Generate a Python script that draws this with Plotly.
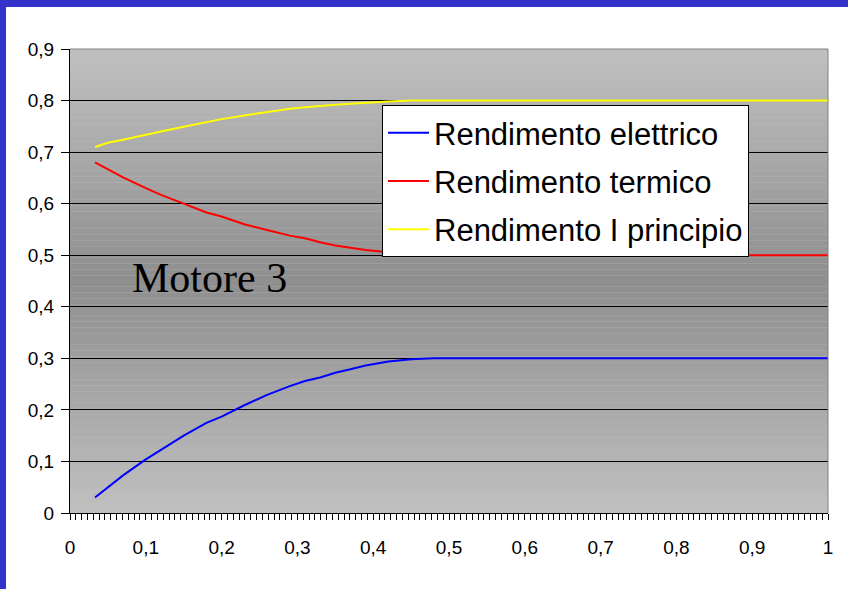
import plotly.graph_objects as go

# ---- data ----
x_vals = [0.033, 0.05, 0.07, 0.10, 0.12, 0.15, 0.18, 0.20, 0.23, 0.26, 0.29, 0.31,
          0.33, 0.35, 0.37, 0.39, 0.42, 0.45, 0.48, 0.50, 0.60, 0.70, 0.80, 0.90, 1.00]

rend_elettrico = [0.030, 0.050, 0.073, 0.104, 0.122, 0.150, 0.175, 0.187, 0.209, 0.229,
                  0.246, 0.256, 0.263, 0.272, 0.279, 0.286, 0.294, 0.298, 0.300, 0.300,
                  0.300, 0.300, 0.300, 0.300, 0.300]

rend_termico = [0.680, 0.667, 0.651, 0.630, 0.617, 0.600, 0.583, 0.575, 0.560, 0.549,
                0.538, 0.533, 0.525, 0.519, 0.514, 0.510, 0.506, 0.503, 0.500, 0.500,
                0.500, 0.500, 0.500, 0.500, 0.500]

rend_I_principio = [0.710, 0.718, 0.724, 0.734, 0.740, 0.749, 0.758, 0.764, 0.771, 0.778,
                    0.784, 0.787, 0.790, 0.792, 0.794, 0.796, 0.798, 0.800, 0.800, 0.800,
                    0.800, 0.800, 0.800, 0.800, 0.800]

series_names = ["Rendimento elettrico", "Rendimento termico", "Rendimento I principio"]

x_tick_vals = [0, 0.1, 0.2, 0.3, 0.4, 0.5, 0.6, 0.7, 0.8, 0.9, 1.0]
x_tick_text = ["0", "0,1", "0,2", "0,3", "0,4", "0,5", "0,6", "0,7", "0,8", "0,9", "1"]
y_tick_vals = [0, 0.1, 0.2, 0.3, 0.4, 0.5, 0.6, 0.7, 0.8, 0.9]
y_tick_text = ["0", "0,1", "0,2", "0,3", "0,4", "0,5", "0,6", "0,7", "0,8", "0,9"]

chart_label = "Motore 3"

# ---- figure ----
W, H = 848, 589
ML, MR, MT, MB = 70, 20, 49, 76
PW, PH = W - ML - MR, H - MT - MB

SANS = "Arial, Liberation Sans, sans-serif"
SERIF = "Times New Roman, Liberation Serif, serif"

fig = go.Figure()
colors = ["#0000ff", "#ff0000", "#ffff00"]
for name, ys, c in zip(series_names, [rend_elettrico, rend_termico, rend_I_principio], colors):
    fig.add_trace(go.Scatter(x=x_vals, y=ys, mode="lines", name=name, legendgroup=name,
                             line=dict(color=c, width=2)))

shapes = []
# vertical gradient background (light at edges, dark in the middle)
nb = 80
for i in range(nb):
    t = (i + 0.5) / nb
    d = abs(t - 0.5) * 2  # 0 at center, 1 at edges
    v = int(round(0x8e + (0xc0 - 0x8e) * d))
    col = f"rgb({v},{v},{v})"
    shapes.append(dict(type="rect", xref="x domain", yref="y domain", x0=0, x1=1,
                       y0=i / nb, y1=(i + 1) / nb, fillcolor=col, line=dict(width=0),
                       layer="below"))
# top & right plot border (grey)
shapes.append(dict(type="line", xref="x domain", yref="y domain", x0=0, x1=1, y0=1, y1=1,
                   line=dict(color="#808080", width=1), layer="above"))
shapes.append(dict(type="line", xref="x domain", yref="y domain", x0=1, x1=1, y0=0, y1=1,
                   line=dict(color="#808080", width=1), layer="above"))
# blue slide frame (left and top)
blue = "#3333cc"
shapes.append(dict(type="rect", xref="paper", yref="paper", x0=-ML / PW, x1=(-ML + 6) / PW,
                   y0=-MB / PH, y1=(PH + MT) / PH, fillcolor=blue, line=dict(width=0),
                   layer="above"))
shapes.append(dict(type="rect", xref="paper", yref="paper", x0=-ML / PW, x1=(W - ML) / PW,
                   y0=(PH + MT - 7) / PH, y1=(PH + MT) / PH, fillcolor=blue,
                   line=dict(width=0), layer="above"))

fig.update_layout(
    width=W, height=H,
    margin=dict(l=ML, r=MR, t=MT, b=MB, pad=0),
    paper_bgcolor="white",
    plot_bgcolor="#c0c0c0",
    shapes=shapes,
    showlegend=True,
    legend=dict(x=(382 - ML) / PW, y=(MT + PH - 105) / PH, xanchor="left", yanchor="top",
                bgcolor="white", bordercolor="black", borderwidth=1,
                font=dict(family=SANS, size=31, color="black"),
                traceorder="grouped", tracegroupgap=5, itemwidth=41),
    annotations=[dict(text=chart_label, xref="paper", yref="paper",
                      x=(209.7 - ML) / PW, y=(MT + PH - 277.5) / PH,
                      xanchor="center", yanchor="middle", showarrow=False,
                      font=dict(family=SERIF, size=42, color="black"))],
)

fig.update_xaxes(
    range=[0, 1], showgrid=False, zeroline=False,
    showline=True, linecolor="black", linewidth=1,
    tickmode="array", tickvals=x_tick_vals, ticktext=x_tick_text,
    ticks="outside", ticklen=6, tickcolor="black", tickwidth=1,
    minor=dict(ticks="outside", ticklen=6, tickcolor="black", tickwidth=1,
               tickmode="linear", tick0=0, dtick=0.1 / 13),
    tickfont=dict(family=SANS, size=19, color="black"),
    ticklabelstandoff=11,
)
fig.update_yaxes(
    range=[0, 0.9], showgrid=True, gridcolor="black", gridwidth=1, zeroline=False,
    showline=True, linecolor="black", linewidth=1,
    tickmode="array", tickvals=y_tick_vals, ticktext=y_tick_text,
    ticks="outside", ticklen=8, tickcolor="black", tickwidth=1,
    tickfont=dict(family=SANS, size=19, color="black"),
    ticklabelstandoff=3,
)

fig.write_html(
    "out.html",
    config={"displayModeBar": False},
    post_script="document.body.style.margin='0px';document.body.style.overflow='hidden';",
)
